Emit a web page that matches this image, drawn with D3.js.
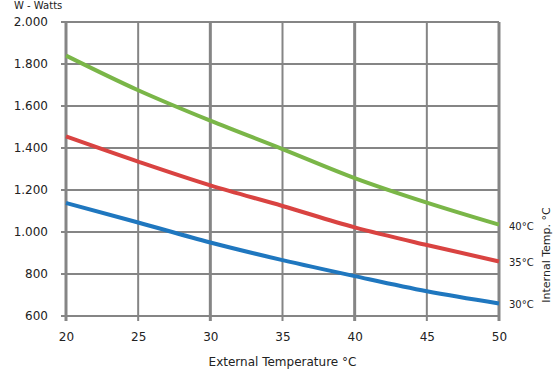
<!DOCTYPE html>
<html>
<head>
<meta charset="utf-8">
<script src="https://cdn.jsdelivr.net/npm/d3@7"></script>
<style>
body { margin: 0; background: #fff; }
text { font-family: "DejaVu Sans", sans-serif; fill: #222; }
</style>
</head>
<body>
<svg id="chart" width="558" height="369"></svg>
<script>
const xValues = [20, 25, 30, 35, 40, 45, 50];
const series40 = [1840, 1675, 1530, 1395, 1257, 1140, 1035];
const series35 = [1455, 1335, 1222, 1124, 1022, 938, 860];
const series30 = [1138, 1045, 950, 866, 790, 718, 660];
const seriesNames = ["40°C", "35°C", "30°C"];
const seriesColors = ["#7ab648", "#d94341", "#1f77bf"];
const xTicks = [20, 25, 30, 35, 40, 45, 50];
const yTicks = [600, 800, 1000, 1200, 1400, 1600, 1800, 2000];

const svg = d3.select("#chart");
const x = d3.scaleLinear().domain([20, 50]).range([66, 499]);
const y = d3.scaleLinear().domain([600, 2000]).range([316, 22]);
const fmt = v => d3.format(",")(v).replace(",", ".");

// gridlines
const grid = svg.append("g");
grid.selectAll("line.h").data(yTicks).join("line")
  .attr("x1", x(20) - 5).attr("x2", x(50))
  .attr("y1", d => y(d)).attr("y2", d => y(d))
  .attr("stroke", "#858585").attr("stroke-width", 2);
grid.selectAll("line.v").data(xTicks).join("line")
  .attr("x1", d => x(d)).attr("x2", d => x(d))
  .attr("y1", y(2000)).attr("y2", y(600) + 5)
  .attr("stroke", "#858585").attr("stroke-width", d => (d % 10 === 0 ? 3 : 2));

// axes labels via d3 axes (lines hidden)
const yAxis = svg.append("g").attr("transform", `translate(${x(20)},0)`)
  .call(d3.axisLeft(y).tickValues(yTicks).tickFormat(fmt).tickSize(0).tickPadding(18));
yAxis.select(".domain").remove();
yAxis.selectAll("text").style("font-family", "DejaVu Sans").style("font-size", "12px").attr("fill", "#222");

const xAxis = svg.append("g").attr("transform", `translate(0,${y(600)})`)
  .call(d3.axisBottom(x).tickValues(xTicks).tickFormat(d3.format("d")).tickSize(0).tickPadding(16));
xAxis.select(".domain").remove();
xAxis.selectAll("text").style("font-family", "DejaVu Sans").style("font-size", "12px").attr("fill", "#222");

// lines
const allSeries = [series40, series35, series30];
const line = d3.line().x((d, i) => x(xValues[i])).y(d => y(d)).curve(d3.curveMonotoneX);
allSeries.forEach((s, k) => {
  svg.append("path").datum(s)
    .attr("d", line)
    .attr("fill", "none")
    .attr("stroke", seriesColors[k])
    .attr("stroke-width", 4)
    .attr("stroke-linecap", "butt");
  svg.append("text")
    .attr("x", x(50) + 10)
    .attr("y", y(s[s.length - 1]) + 5)
    .attr("font-size", 10)
    .text(seriesNames[k]);
});

// titles
svg.append("text")
  .attr("x", (x(20) + x(50)) / 2).attr("y", 366)
  .attr("text-anchor", "middle").attr("font-size", 12)
  .text("External Temperature °C");

svg.append("text")
  .attr("transform", `translate(550,${255}) rotate(-90)`)
  .attr("text-anchor", "middle").attr("font-size", 11)
  .text("Internal Temp. °C");

svg.append("text")
  .attr("x", 14).attr("y", 9)
  .attr("font-size", 10)
  .text("W - Watts");
</script>
</body>
</html>
